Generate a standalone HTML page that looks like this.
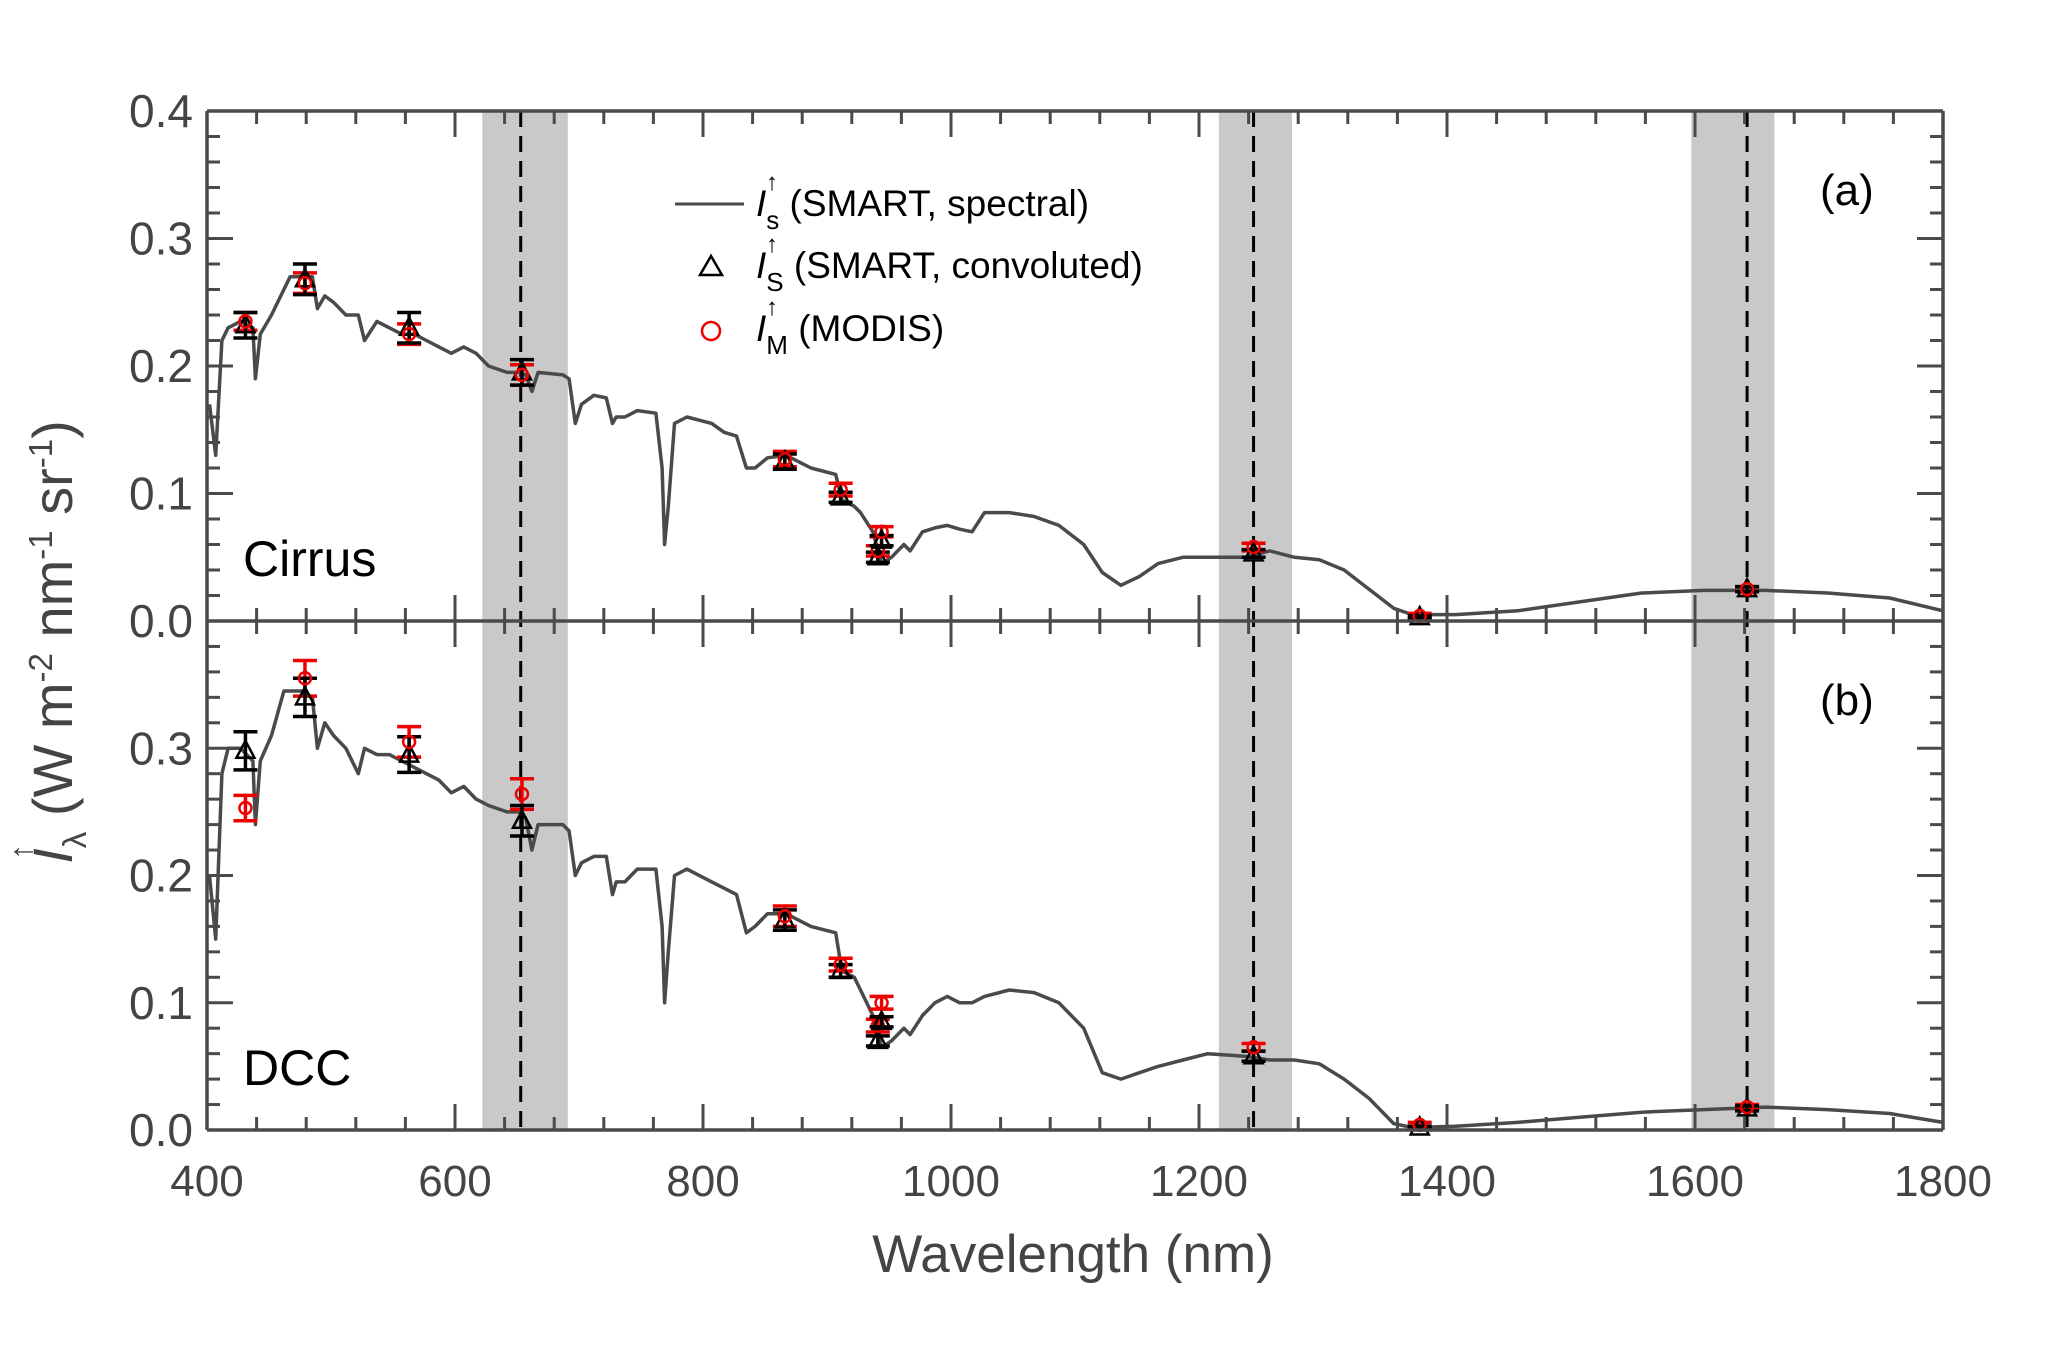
<!DOCTYPE html>
<html><head><meta charset="utf-8"><style>
body{margin:0;background:#fff}
svg{font-family:"Liberation Sans",Arial,sans-serif}
</style></head><body>
<svg id="chart" width="2066" height="1345" viewBox="0 0 2066 1345" xmlns="http://www.w3.org/2000/svg">
<g id="bands"></g>
<g id="series"></g>
<g id="axes"></g>
<text x="243" y="576" font-size="50" fill="#000">Cirrus</text>
<text x="243" y="1085" font-size="50" fill="#000">DCC</text>
<text x="1820" y="205" font-size="44" fill="#000">(a)</text>
<text x="1820" y="715" font-size="44" fill="#000">(b)</text>
<g font-size="37" fill="#000">
 <line x1="675" y1="204" x2="744" y2="204" stroke="#4a4a4a" stroke-width="3"/>
 <text x="756" y="216"><tspan font-style="italic">I</tspan><tspan dy="13" font-size="26">s</tspan><tspan dy="-13"> (SMART, spectral)</tspan></text>
 <path d="M711,256 L722,275 L700,275 Z" fill="none" stroke="#000" stroke-width="2.5"/>
 <text x="756" y="278"><tspan font-style="italic">I</tspan><tspan dy="13" font-size="26">S</tspan><tspan dy="-13"> (SMART, convoluted)</tspan></text>
 <circle cx="711" cy="331" r="9" fill="none" stroke="#e00" stroke-width="2.5"/>
 <text x="756" y="341"><tspan font-style="italic">I</tspan><tspan dy="13" font-size="26">M</tspan><tspan dy="-13"> (MODIS)</tspan></text>
 <text x="766" y="190" font-size="24">↑</text>
 <text x="766" y="252" font-size="24">↑</text>
 <text x="766" y="315" font-size="24">↑</text>
</g>
<g transform="translate(72,642) rotate(-90)">
 <text x="0" y="0" text-anchor="middle" font-size="56" fill="#444"><tspan font-style="italic">I</tspan><tspan font-size="33" dy="14">λ</tspan><tspan dy="-14"> (W m</tspan><tspan font-size="33" dy="-20">-2</tspan><tspan dy="20"> nm</tspan><tspan font-size="33" dy="-20">-1</tspan><tspan dy="20"> sr</tspan><tspan font-size="33" dy="-20">-1</tspan><tspan dy="20">)</tspan></text>
 <text x="-218" y="-40" font-size="32" fill="#444">↑</text>
</g>
<text x="1073" y="1272" text-anchor="middle" font-size="53" fill="#444">Wavelength (nm)</text>
<script>
const wl=[402,407,412,417,427,437,439,443,452,462,467,477,485,489,495,502,512,522,527,537,547,557,567,577,587,597,607,617,627,642,652,657,662,667,687,692,697,702,712,722,727,730,737,747,762,767,769,772,777,787,807,817,827,835,842,852,867,887,907,912,922,927,937,944,952,962,967,977,987,997,1007,1017,1027,1047,1067,1087,1107,1122,1137,1152,1167,1187,1207,1237,1257,1277,1297,1317,1337,1357,1372,1407,1457,1507,1557,1607,1657,1707,1757,1807];
const specA=[0.17,0.13,0.22,0.23,0.235,0.23,0.19,0.225,0.24,0.26,0.27,0.27,0.27,0.245,0.255,0.25,0.24,0.24,0.22,0.235,0.23,0.225,0.225,0.22,0.215,0.21,0.215,0.21,0.20,0.195,0.195,0.193,0.18,0.195,0.193,0.19,0.155,0.17,0.177,0.175,0.155,0.16,0.16,0.165,0.163,0.12,0.06,0.09,0.155,0.16,0.155,0.148,0.145,0.12,0.12,0.128,0.13,0.12,0.115,0.095,0.09,0.085,0.07,0.045,0.05,0.06,0.055,0.07,0.073,0.075,0.072,0.07,0.085,0.085,0.082,0.075,0.06,0.038,0.028,0.035,0.045,0.05,0.05,0.05,0.055,0.05,0.048,0.04,0.025,0.01,0.005,0.005,0.008,0.015,0.022,0.024,0.024,0.022,0.018,0.008];
const specB=[0.2,0.15,0.28,0.30,0.30,0.29,0.24,0.29,0.31,0.345,0.345,0.345,0.34,0.30,0.32,0.31,0.30,0.28,0.30,0.295,0.295,0.29,0.285,0.28,0.275,0.265,0.27,0.26,0.255,0.25,0.25,0.245,0.22,0.24,0.24,0.235,0.2,0.21,0.215,0.215,0.185,0.195,0.195,0.205,0.205,0.16,0.10,0.14,0.20,0.205,0.195,0.19,0.185,0.155,0.16,0.17,0.17,0.16,0.155,0.125,0.12,0.11,0.09,0.065,0.07,0.08,0.075,0.09,0.1,0.105,0.1,0.1,0.105,0.11,0.108,0.1,0.08,0.045,0.04,0.045,0.05,0.055,0.06,0.058,0.055,0.055,0.052,0.04,0.025,0.005,0.002,0.003,0.006,0.01,0.014,0.016,0.018,0.016,0.013,0.006];
const ptWl=[431,479,563,654,866,911,941,944,1244,1378,1642];
const sA=[0.232,0.268,0.23,0.195,0.125,0.097,0.05,0.063,0.053,0.003,0.025];
const sAerr=[0.01,0.012,0.012,0.01,0.006,0.004,0.004,0.004,0.003,0.001,0.002];
const mA=[0.235,0.265,0.225,0.193,0.127,0.103,0.055,0.07,0.058,0.004,0.025];
const mAerr=[0.007,0.008,0.008,0.008,0.006,0.005,0.004,0.004,0.003,0.002,0.002];
const sB=[0.298,0.34,0.295,0.243,0.165,0.125,0.07,0.085,0.058,0.002,0.017];
const sBerr=[0.015,0.015,0.014,0.012,0.008,0.005,0.004,0.004,0.004,0.001,0.002];
const mB=[0.253,0.355,0.305,0.264,0.168,0.13,0.082,0.1,0.065,0.004,0.018];
const mBerr=[0.01,0.014,0.012,0.012,0.008,0.005,0.005,0.005,0.003,0.002,0.002];
const bandLo=[622,1216,1597];
const bandHi=[691,1275,1664];
const bandCenter=[653,1244,1642];
const xTicks=[400,600,800,1000,1200,1400,1600,1800];
const yTicks=[0,0.1,0.2,0.3,0.4];

const NS="http://www.w3.org/2000/svg";
const L=207,R=1943,T=111,M=621,B=1130;
const x=w=>L+(w-400)/1400*(R-L);
const yA=v=>M-v/0.4*(M-T);
const yB=v=>B-v/0.4*(B-M);
function mk(tag,attrs,parent){const e=document.createElementNS(NS,tag);for(const k in attrs)e.setAttribute(k,attrs[k]);parent.appendChild(e);return e;}
const gB=document.getElementById('bands'),gS=document.getElementById('series'),gA=document.getElementById('axes');
bandLo.forEach((lo,i)=>{
 const r=mk('rect',{x:x(lo),y:T,width:x(bandHi[i])-x(lo),height:B-T,fill:'#c9c9c9'},gB);
 
 
 const l=mk('line',{x1:x(bandCenter[i]),x2:x(bandCenter[i]),y1:T,y2:B,stroke:'#000','stroke-width':3,'stroke-dasharray':'16,9'},gB);
 
 
});
function spec(vals,yf,name){
 const d=wl.map((w,i)=>(i?'L':'M')+Math.min(Math.max(x(w),L-6),R).toFixed(1)+','+yf(vals[i]).toFixed(1)).join(' ');
 const p=mk('path',{d:d,fill:'none',stroke:'#4a4a4a','stroke-width':3.5,'stroke-linejoin':'round'},gS);
 
 
}
spec(specA,yA,'spectrum-cirrus');spec(specB,yB,'spectrum-dcc');
function err(cx,v,e,yf,col){
 const g=mk('g',{stroke:col,'stroke-width':3.5},gS);
 
 
 const y1=yf(v+e),y2=yf(v-e);
 mk('line',{x1:cx,x2:cx,y1:y1,y2:y2},g);
 mk('line',{x1:cx-12,x2:cx+12,y1:y1,y2:y1},g);
 mk('line',{x1:cx-12,x2:cx+12,y1:y2,y2:y2},g);
}
function pts(s,se,m,me,yf){
 ptWl.forEach((w,i)=>{
  const cx=x(w);
  err(cx,m[i],me[i],yf,'#e00');
  err(cx,s[i],se[i],yf,'#000');
  const cy=yf(s[i]);
  const t=mk('path',{d:`M${cx},${cy-10} L${cx+9},${cy+7} L${cx-9},${cy+7} Z`,fill:'none',stroke:'#000','stroke-width':2.5},gS);
  
  
  const c=mk('circle',{cx:cx,cy:yf(m[i]),r:6,fill:'none',stroke:'#e00','stroke-width':2.5},gS);
  
  
 });
}
pts(sA,sAerr,mA,mAerr,yA);pts(sB,sBerr,mB,mBerr,yB);
const ac='#4a4a4a';
[[L,T,R,T],[L,B,R,B],[L,T,L,B],[R,T,R,B],[L,M,R,M]].forEach(a=>{
 const l=mk('line',{x1:a[0],y1:a[1],x2:a[2],y2:a[3],stroke:ac,'stroke-width':3.5},gA);
 
 
});
for(let w=400;w<=1800;w+=40){
 const major=(w%200===0),len=major?26:13,cx=x(w);
 mk('line',{x1:cx,x2:cx,y1:T,y2:T+len,stroke:ac,'stroke-width':3},gA);
 mk('line',{x1:cx,x2:cx,y1:B,y2:B-len,stroke:ac,'stroke-width':3},gA);
 mk('line',{x1:cx,x2:cx,y1:M-len,y2:M+len,stroke:ac,'stroke-width':3},gA);
}
xTicks.forEach(w=>{
 const t=mk('text',{x:x(w),y:1196,'text-anchor':'middle','font-size':44,fill:'#444'},gA);
 t.textContent=w;
 
 
});
[yA,yB].forEach((yf,pi)=>{
 for(let k=0;k<=20;k++){
  const v=k*0.02,major=(k%5===0),len=major?26:13,cy=yf(v);
  mk('line',{x1:L,x2:L+len,y1:cy,y2:cy,stroke:ac,'stroke-width':3},gA);
  mk('line',{x1:R,x2:R-len,y1:cy,y2:cy,stroke:ac,'stroke-width':3},gA);
 }
 yTicks.forEach(v=>{
  if(pi===1&&v===0.4)return;
  const t=mk('text',{x:L-14,y:yf(v)+16,'text-anchor':'end','font-size':46,fill:'#444'},gA);
  t.textContent=v.toFixed(1);
  
  
 });
});
</script>
</svg>
</body></html>
